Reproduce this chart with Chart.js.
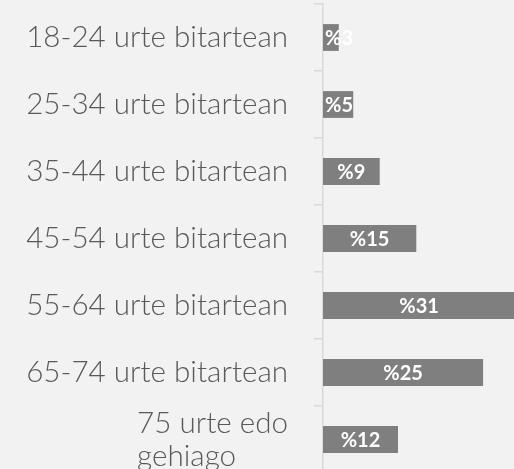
<!DOCTYPE html>
<html lang="eu">
<head>
    <meta charset="UTF-8">
    <title>Adin taldeak</title>
    <style>
        html, body { margin: 0; padding: 0; background: #f2f2f2; overflow: hidden; }
        #chart-box { position: relative; width: 531px; height: 473px; }
    </style>
</head>
<body>
    <div id="chart-box">
        <canvas id="age-chart"></canvas>
    </div>

    <script src="https://cdn.jsdelivr.net/npm/chart.js"></script>
    <script>
        // categories (last one is drawn on two lines)
        const ageGroups = [
            '18-24 urte bitartean',
            '25-34 urte bitartean',
            '35-44 urte bitartean',
            '45-54 urte bitartean',
            '55-64 urte bitartean',
            '65-74 urte bitartean',
            ['75 urte edo', 'gehiago']
        ];
        // percentages
        const shares = [2.5, 4.8, 9.0, 14.8, 30.5, 25.4, 11.9];
        const axisMax = 33;

        const labelFont = '300 29.6px Lato';
        const valueFont = 'bold 20px Lato';

        // category labels: block right-aligned, lines left-aligned inside it
        const categoryLabels = {
            id: 'categoryLabels',
            afterDraw(chart) {
                const ctx = chart.ctx;
                const y = chart.scales.y;
                const right = 288;
                const lineHeight = 33;
                ctx.save();
                ctx.font = labelFont;
                ctx.fillStyle = '#595959';
                ctx.textAlign = 'left';
                ctx.textBaseline = 'middle';
                ageGroups.forEach((label, i) => {
                    const lines = Array.isArray(label) ? label : [label];
                    const widest = Math.max(...lines.map(l => ctx.measureText(l).width));
                    const cy = y.getPixelForTick(i);
                    const top = cy - (lines.length - 1) * lineHeight / 2;
                    lines.forEach((l, j) => {
                        ctx.fillText(l, right - widest, top + j * lineHeight);
                    });
                });
                ctx.restore();
            }
        };

        // "%N" labels inside the bars
        const valueLabels = {
            id: 'valueLabels',
            afterDatasetsDraw(chart) {
                const ctx = chart.ctx;
                const meta = chart.getDatasetMeta(0);
                ctx.save();
                ctx.font = valueFont;
                ctx.fillStyle = '#ffffff';
                ctx.textAlign = 'left';
                ctx.textBaseline = 'middle';
                meta.data.forEach((bar, i) => {
                    const text = '%' + Math.round(shares[i]);
                    const w = ctx.measureText(text).width;
                    const start = Math.min(bar.base, bar.x);
                    const center = (bar.base + bar.x) / 2;
                    const left = Math.max(center - w / 2, start + 2);
                    ctx.fillText(text, left, bar.y + 1);
                });
                ctx.restore();
            }
        };

        new Chart(document.getElementById('age-chart'), {
            type: 'bar',
            data: {
                labels: ageGroups,
                datasets: [{
                    data: shares,
                    backgroundColor: '#7f7f7f',
                    borderWidth: 0,
                    categoryPercentage: 1,
                    barPercentage: 0.4
                }]
            },
            options: {
                indexAxis: 'y',
                responsive: true,
                maintainAspectRatio: false,
                animation: false,
                layout: { padding: { top: 4, right: 0, bottom: 0, left: 0 } },
                plugins: {
                    legend: { display: false },
                    tooltip: { enabled: false }
                },
                scales: {
                    x: {
                        display: false,
                        min: 0,
                        max: axisMax
                    },
                    y: {
                        afterFit(scale) { scale.width = 323; },
                        ticks: { display: false },
                        grid: {
                            drawOnChartArea: false,
                            color: '#d9d9d9',
                            lineWidth: 1.5,
                            tickLength: 9
                        },
                        border: { color: '#d9d9d9', width: 1.5 }
                    }
                }
            },
            plugins: [categoryLabels, valueLabels]
        });
    </script>
</body>
</html>
